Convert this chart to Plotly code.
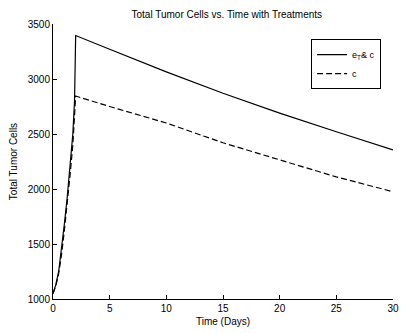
import plotly.graph_objects as go

# Time points (days) and total tumour cell counts for the two treatment runs
t_days = [0, 0.25, 0.5, 0.75, 1.0, 1.25, 1.5, 1.75, 1.9, 2.0,
          5, 10, 15, 20, 25, 30]
cells_effector_chemo = [1050, 1130, 1250, 1450, 1680, 1920, 2200, 2500, 2800, 3395,
                        3270, 3065, 2870, 2690, 2520, 2355]
cells_chemo = [1050, 1120, 1230, 1400, 1620, 1850, 2120, 2400, 2700, 2845,
               2750, 2600, 2420, 2265, 2110, 1975]

x_ticks = [0, 5, 10, 15, 20, 25, 30]
y_ticks = [1000, 1500, 2000, 2500, 3000, 3500]

font = dict(family="Liberation Sans, Arial, sans-serif", size=10, color="black")

fig = go.Figure()
fig.add_trace(go.Scatter(
    x=t_days, y=cells_effector_chemo, mode="lines",
    name="e<sub>T</sub>& c",
    line=dict(color="black", width=1.2),
))
fig.add_trace(go.Scatter(
    x=t_days, y=cells_chemo, mode="lines",
    name="c",
    line=dict(color="black", width=1.2, dash="6px,3px"),
))

axis_common = dict(
    showline=True, linecolor="black", linewidth=1, mirror=False,
    ticks="inside", ticklen=4, tickcolor="black", tickwidth=1,
    showgrid=False, zeroline=False, tickfont=font,
)

fig.update_layout(
    width=405, height=333,
    margin=dict(l=53, r=6, t=24, b=34),
    paper_bgcolor="white", plot_bgcolor="white",
    font=font,
    title=dict(text="Total Tumor Cells vs. Time with Treatments",
               x=0.56, xanchor="center", y=0.957, yanchor="middle",
               font=dict(size=10, family=font["family"], color="black")),
    xaxis=dict(range=[0, 30], tickvals=x_ticks,
               title=dict(text="Time (Days)", standoff=4, font=font),
               **axis_common),
    yaxis=dict(range=[1000, 3500], tickvals=y_ticks,
               title=dict(text="Total Tumor Cells", standoff=8, font=font),
               **axis_common),
    legend=dict(x=0.965, y=0.945, xanchor="right", yanchor="top",
                bordercolor="black", borderwidth=1, bgcolor="white",
                font=dict(size=9, family=font["family"], color="black"),
                tracegroupgap=0, itemwidth=30),
    showlegend=True,
)

fig.write_html("out.html")
